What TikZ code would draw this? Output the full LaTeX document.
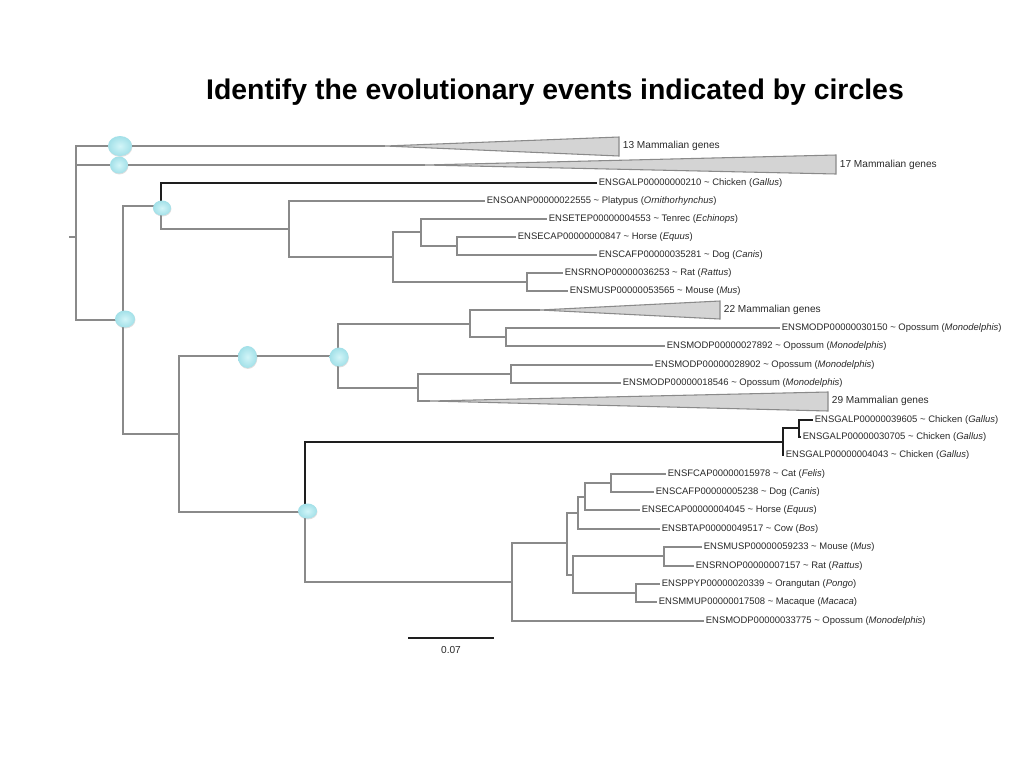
\documentclass[tikz,border=0pt]{standalone}
\usepackage{fontspec}
\setmainfont{Liberation Sans}
\usetikzlibrary{shapes.geometric,shadows}
\definecolor{branch}{HTML}{8A8A8A}
\definecolor{dark}{HTML}{1E1E1E}
\definecolor{tri}{HTML}{D4D4D4}
\definecolor{cyanin}{HTML}{D2F5F8}
\definecolor{cyanout}{HTML}{A2E0E8}
\definecolor{txt}{HTML}{2A2A2A}
\newcommand{\tld}{\textasciitilde}
\begin{document}
\begin{tikzpicture}[x=0.75pt,y=-0.75pt,
  br/.style={draw=branch,line width=1.5pt},
  bk/.style={draw=dark,line width=1.5pt},
  leaf/.style={anchor=west,inner xsep=1.2pt,inner ysep=0.5pt,text=txt,font=\fontsize{7.1}{8}\selectfont},
  grp/.style={anchor=west,inner xsep=1.2pt,inner ysep=0.5pt,text=txt,font=\fontsize{7.6}{9}\selectfont},
  clade/.style={fill=tri,draw=branch,line width=0.8pt,line join=miter},
  ev/.style={ellipse,inner sep=0pt,draw=none,shading=radial,inner color=cyanin,outer color=cyanout,
    drop shadow={opacity=0.25,shadow xshift=0.3pt,shadow yshift=-0.7pt,fill=gray}},
  ttl/.style={font=\bfseries\fontsize{21.3}{24}\selectfont,text=black}]
\fill[white] (0,0) rectangle (1024,768);
\useasboundingbox (0,0) rectangle (1024,768);

\node[ttl] (title) at (555,92) {Identify the evolutionary events indicated by circles};

% internal nodes
\coordinate (root) at (76,233);
\coordinate (stub) at (69,237);
\coordinate (N1) at (123,320);
\coordinate (N2) at (161,206);
\coordinate (N3) at (289,229);
\coordinate (N4) at (393,257);
\coordinate (N5) at (421,232);
\coordinate (N6) at (457,246);
\coordinate (N7) at (527,282);
\coordinate (N8) at (179,434);
\coordinate (N9) at (338,356);
\coordinate (N10) at (470,324);
\coordinate (N11) at (506,337);
\coordinate (N12) at (418,388);
\coordinate (N13) at (511,374);
\coordinate (N14) at (305,512);
\coordinate (N15) at (783,442);
\coordinate (N16) at (799,428);
\coordinate (N17) at (512,582);
\coordinate (N18) at (567,543);
\coordinate (N19) at (578,513);
\coordinate (N20) at (585,497);
\coordinate (N21) at (611,483);
\coordinate (N22) at (573,575);
\coordinate (N23) at (664,556);
\coordinate (N24) at (636,593);

% collapsed clades
\coordinate (T13) at (385,146);
\coordinate (T17) at (425,165);
\coordinate (T22) at (540,310);
\coordinate (T29) at (430,401);
\coordinate (T13a) at (619,137); \coordinate (T13b) at (619,156);
\coordinate (T17a) at (836,155); \coordinate (T17b) at (836,174);
\coordinate (T22a) at (720,301); \coordinate (T22b) at (720,319);
\coordinate (T29a) at (828,392); \coordinate (T29b) at (828,411);
\draw[clade] (T13) -- (T13a) -- (T13b) -- cycle;
\draw[clade] (T17) -- (T17a) -- (T17b) -- cycle;
\draw[clade] (T22) -- (T22a) -- (T22b) -- cycle;
\draw[clade] (T29) -- (T29a) -- (T29b) -- cycle;
\node[grp] (g13) at (621,146) {13 Mammalian genes};
\node[grp] (g17) at (838,165) {17 Mammalian genes};
\node[grp] (g22) at (722,310) {22 Mammalian genes};
\node[grp] (g29) at (830,401) {29 Mammalian genes};

% leaf labels
\node[leaf] (chk210) at (597,183) {ENSGALP00000000210 \tld{} Chicken (\textit{Gallus})};
\node[leaf] (plat) at (485,201) {ENSOANP00000022555 \tld{} Platypus (\textit{Ornithorhynchus})};
\node[leaf] (tenrec) at (547,219) {ENSETEP00000004553 \tld{} Tenrec (\textit{Echinops})};
\node[leaf] (horse) at (516,237) {ENSECAP00000000847 \tld{} Horse (\textit{Equus})};
\node[leaf] (dog) at (597,255) {ENSCAFP00000035281 \tld{} Dog (\textit{Canis})};
\node[leaf] (rat) at (563,273) {ENSRNOP00000036253 \tld{} Rat (\textit{Rattus})};
\node[leaf] (mouse) at (568,291) {ENSMUSP00000053565 \tld{} Mouse (\textit{Mus})};
\node[leaf] (opA) at (780,328) {ENSMODP00000030150 \tld{} Opossum (\textit{Monodelphis})};
\node[leaf] (opB) at (665,346) {ENSMODP00000027892 \tld{} Opossum (\textit{Monodelphis})};
\node[leaf] (opC) at (653,365) {ENSMODP00000028902 \tld{} Opossum (\textit{Monodelphis})};
\node[leaf] (opD) at (621,383) {ENSMODP00000018546 \tld{} Opossum (\textit{Monodelphis})};
\node[leaf] (chkA) at (813,420) {ENSGALP00000039605 \tld{} Chicken (\textit{Gallus})};
\node[leaf] (chkB) at (801,437) {ENSGALP00000030705 \tld{} Chicken (\textit{Gallus})};
\node[leaf] (chkC) at (784,455) {ENSGALP00000004043 \tld{} Chicken (\textit{Gallus})};
\node[leaf] (cat) at (666,474) {ENSFCAP00000015978 \tld{} Cat (\textit{Felis})};
\node[leaf] (dogB) at (654,492) {ENSCAFP00000005238 \tld{} Dog (\textit{Canis})};
\node[leaf] (horseB) at (640,510) {ENSECAP00000004045 \tld{} Horse (\textit{Equus})};
\node[leaf] (cow) at (660,529) {ENSBTAP00000049517 \tld{} Cow (\textit{Bos})};
\node[leaf] (mouseB) at (702,547) {ENSMUSP00000059233 \tld{} Mouse (\textit{Mus})};
\node[leaf] (ratB) at (694,566) {ENSRNOP00000007157 \tld{} Rat (\textit{Rattus})};
\node[leaf] (orang) at (660,584) {ENSPPYP00000020339 \tld{} Orangutan (\textit{Pongo})};
\node[leaf] (maca) at (657,602) {ENSMMUP00000017508 \tld{} Macaque (\textit{Macaca})};
\node[leaf] (opE) at (704,621) {ENSMODP00000033775 \tld{} Opossum (\textit{Monodelphis})};

% branches
\draw[br] (stub) -- (stub -| root);
\draw[br] (root) |- (T13);
\draw[br] (root) |- (T17);
\draw[br] (root) |- (N1);
\draw[br] (N1) |- (N2);
\draw[br] (N1) |- (N8);
\draw[br] (N2) |- (N3);
\draw[bk] (N2) |- (chk210.west);
\draw[br] (N3) |- (plat.west);
\draw[br] (N3) |- (N4);
\draw[br] (N4) |- (N5);
\draw[br] (N4) |- (N7);
\draw[br] (N5) |- (tenrec.west);
\draw[br] (N5) |- (N6);
\draw[br] (N6) |- (horse.west);
\draw[br] (N6) |- (dog.west);
\draw[br] (N7) |- (rat.west);
\draw[br] (N7) |- (mouse.west);
\draw[br] (N8) |- (N9);
\draw[br] (N8) |- (N14);
\draw[br] (N9) |- (N10);
\draw[br] (N9) |- (N12);
\draw[br] (N10) |- (T22);
\draw[br] (N10) |- (N11);
\draw[br] (N11) |- (opA.west);
\draw[br] (N11) |- (opB.west);
\draw[br] (N12) |- (N13);
\draw[br] (N12) |- (T29);
\draw[br] (N13) |- (opC.west);
\draw[br] (N13) |- (opD.west);
\draw[br] (N14) |- (N17);
\draw[bk] (N14) |- (N15);
\draw[bk] (N15) |- (N16);
\draw[bk] (N15) |- (chkC.west);
\draw[bk] (N16) |- (chkA.west);
\draw[bk] (N16) |- (chkB.west);
\draw[br] (N17) |- (N18);
\draw[br] (N17) |- (opE.west);
\draw[br] (N18) |- (N19);
\draw[br] (N18) |- (N22);
\draw[br] (N19) |- (N20);
\draw[br] (N19) |- (cow.west);
\draw[br] (N20) |- (N21);
\draw[br] (N20) |- (horseB.west);
\draw[br] (N21) |- (cat.west);
\draw[br] (N21) |- (dogB.west);
\draw[br] (N22) |- (N23);
\draw[br] (N22) |- (N24);
\draw[br] (N23) |- (mouseB.west);
\draw[br] (N23) |- (ratB.west);
\draw[br] (N24) |- (orang.west);
\draw[br] (N24) |- (maca.west);

% event circles
\node[ev,minimum width=18pt,minimum height=15pt] (c1) at (120,146) {};
\node[ev,minimum width=13.5pt,minimum height=12.75pt] (c2) at (119,165) {};
\node[ev,minimum width=15pt,minimum height=12.75pt] (c3) at (125,319) {};
\node[ev,minimum width=13.5pt,minimum height=11.25pt] (c4) at (162,208) {};
\node[ev,minimum width=14.25pt,minimum height=16.5pt] (c5) at (247.5,357) {};
\node[ev,minimum width=14.25pt,minimum height=14.25pt] (c6) at (339,357) {};
\node[ev,minimum width=14.25pt,minimum height=11.25pt] (c7) at (307.5,511) {};

% scale bar
\coordinate (sb1) at (408,638);
\coordinate (sb2) at (494,638);
\draw[bk,line width=1.2pt] (sb1) -- (sb2);
\node[text=txt,font=\fontsize{7.6}{9}\selectfont] (sblab) at (451,650) {0.07};
\end{tikzpicture}
\end{document}
